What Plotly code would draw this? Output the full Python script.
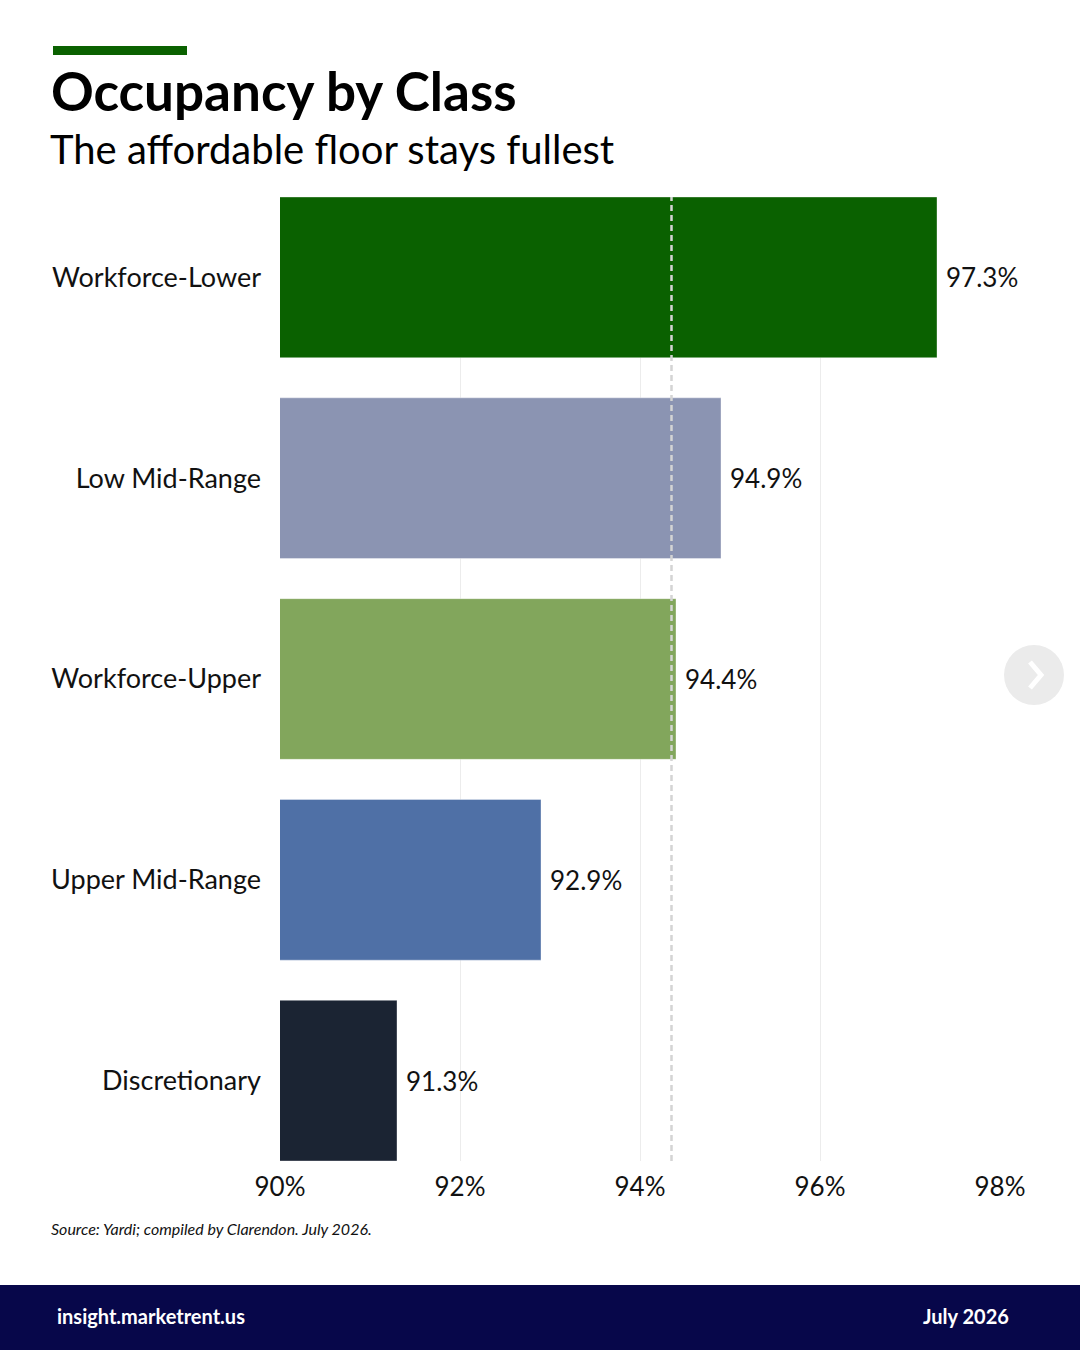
import plotly.graph_objects as go

# ---- data ----
categories = ["Workforce-Lower", "Low Mid-Range", "Workforce-Upper", "Upper Mid-Range", "Discretionary"]
occupancy = [97.3, 94.9, 94.4, 92.9, 91.3]
bar_colors = ["#0a6100", "#8b94b2", "#82a65c", "#4f70a6", "#1b2433"]
benchmark = 94.35
x_ticks = [90, 92, 94, 96, 98]
x_tick_labels = ["90%", "92%", "94%", "96%", "98%"]

title = "Occupancy by Class"
subtitle = "The affordable floor stays fullest"
source = "Source: Yardi; compiled by Clarendon. July 2026."
footer_left = "insight.marketrent.us"
footer_right = "July 2026"

W, H = 1080, 1350
ML, MR, MT, MB = 280, 80, 197, 189
PW, PH = W - ML - MR, H - MT - MB

def px(xp):
    return (xp - ML) / PW

def py(yp):
    return (H - MB - yp) / PH

FONT = "Lato, 'Open Sans', sans-serif"

fig = go.Figure()
fig.add_trace(go.Bar(
    y=categories, x=occupancy, base=0, orientation="h",
    marker=dict(color=bar_colors, line=dict(color="rgba(255,255,255,0.6)", width=0.6)),
    width=0.8, hoverinfo="skip",
))

annotations = []
for c, v in zip(categories, occupancy):
    annotations.append(dict(
        x=v, y=c, xref="x", yref="y", text=f"{v:.1f}%", showarrow=False,
        xanchor="left", yanchor="middle", xshift=7, yshift=0,
        font=dict(family=FONT, size=26, color="#111111"),
    ))

annotations += [
    dict(x=px(49), y=py(91), xref="paper", yref="paper", text=f"<b>{title}</b>",
         showarrow=False, xanchor="left", yanchor="middle",
         font=dict(family=FONT, size=53, color="#000000")),
    dict(x=px(48), y=py(149), xref="paper", yref="paper", text=subtitle,
         showarrow=False, xanchor="left", yanchor="middle",
         font=dict(family=FONT, size=40, color="#000000")),
    dict(x=px(49), y=py(1228), xref="paper", yref="paper", text=f"<i>{source}</i>",
         showarrow=False, xanchor="left", yanchor="middle",
         font=dict(family=FONT, size=16, color="#111111")),
    dict(x=px(55), y=py(1316), xref="paper", yref="paper", text=f"<b>{footer_left}</b>",
         showarrow=False, xanchor="left", yanchor="middle",
         font=dict(family=FONT, size=20, color="#ffffff")),
    dict(x=px(1011), y=py(1316), xref="paper", yref="paper", text=f"<b>{footer_right}</b>",
         showarrow=False, xanchor="right", yanchor="middle",
         font=dict(family=FONT, size=20, color="#ffffff")),
]

shapes = [
    # accent bar
    dict(type="rect", xref="paper", yref="paper", x0=px(53), x1=px(187), y0=py(55), y1=py(46),
         fillcolor="#0a6100", line=dict(width=0), layer="above"),
    # footer band
    dict(type="rect", xref="paper", yref="paper", x0=px(0), x1=px(W), y0=py(H), y1=py(1285),
         fillcolor="#07074a", line=dict(width=0), layer="above"),
    # benchmark dashed line
    dict(type="line", xref="x", yref="paper", x0=benchmark, x1=benchmark, y0=0, y1=1,
         line=dict(color="#d4d4d4", width=2.5, dash="6px,4px"), layer="above"),
    # carousel circle
    dict(type="circle", xref="paper", yref="paper", x0=px(1004), x1=px(1064), y0=py(705), y1=py(645),
         fillcolor="#ebebeb", line=dict(width=0), layer="above"),
    dict(type="path", xref="paper", yref="paper",
         path=f"M {px(1030)} {py(662)} L {px(1041)} {py(675)} L {px(1030)} {py(688)}",
         line=dict(color="#ffffff", width=5), layer="above"),
]

fig.update_layout(
    width=W, height=H,
    margin=dict(l=ML, r=MR, t=MT, b=MB, pad=0),
    paper_bgcolor="#ffffff", plot_bgcolor="#ffffff",
    showlegend=False,
    bargap=0.2,
    annotations=annotations,
    shapes=shapes,
    font=dict(family=FONT, color="#111111"),
    xaxis=dict(
        range=[90, 98], tickvals=x_ticks, ticktext=x_tick_labels,
        showgrid=True, gridcolor="#ececec", gridwidth=1, zeroline=False,
        showline=False, ticks="", ticklabelstandoff=8,
        tickfont=dict(family=FONT, size=26, color="#111111"),
        fixedrange=True,
    ),
    yaxis=dict(
        range=[4.4, -0.4], categoryorder="array", categoryarray=categories,
        showgrid=False, zeroline=False, showline=False, ticks="",
        ticklabelstandoff=18,
        tickfont=dict(family=FONT, size=27, color="#111111"),
        fixedrange=True,
    ),
)

fig.write_html(
    "out.html",
    config={"displayModeBar": False},
    post_script="document.body.style.margin='0';document.body.style.overflow='hidden';",
)
